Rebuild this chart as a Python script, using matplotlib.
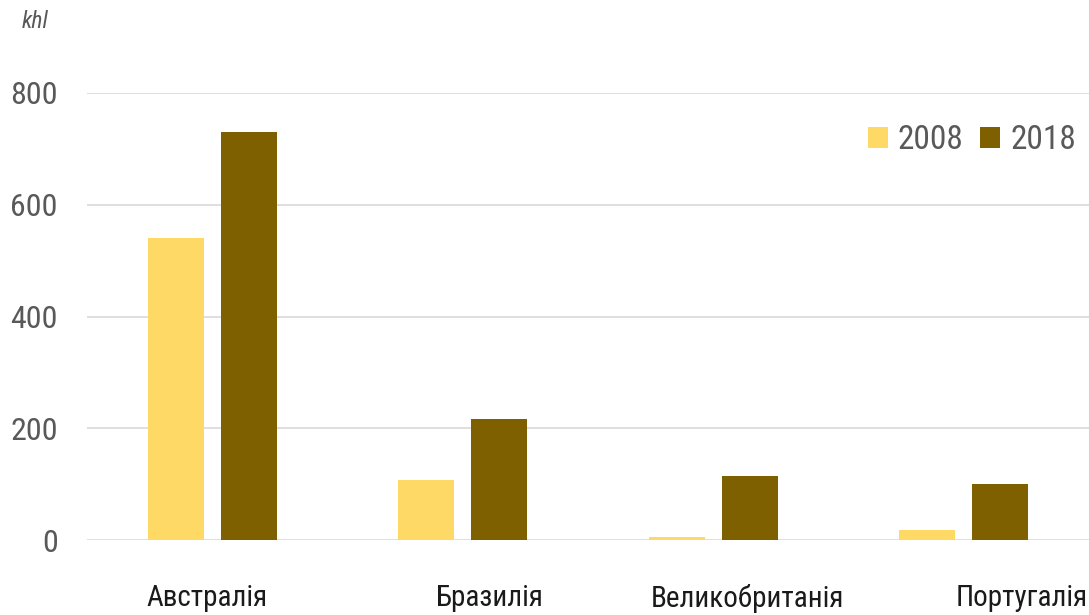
import numpy as np
import matplotlib
matplotlib.use("Agg")
import matplotlib.pyplot as plt
from matplotlib.transforms import blended_transform_factory

countries = ['Австралія', 'Бразилія', 'Великобританія', 'Португалія']
years = ['2008', '2018']
v2008 = [540, 107, 5, 18]
v2018 = [730, 216, 114, 100]

c2008 = '#FFD966'
c2018 = '#7F6000'
narrow = ['Roboto Condensed', 'Roboto', 'DejaVu Sans']

fig = plt.figure(figsize=(10.89, 6.15), dpi=100)
ax = fig.add_axes([87 / 1089, 75 / 615, 1 - 87 / 1089, 447 / 615])

x = np.arange(len(countries))
w = 0.224
ax.bar(x - 0.146, v2008, w, color=c2008, label=years[0], zorder=3)
ax.bar(x + 0.146, v2018, w, color=c2018, label=years[1], zorder=3)

ax.set_xlim(-0.5, 3.5)
ax.set_ylim(0, 800)
ax.set_yticks([0, 200, 400, 600, 800])
ax.yaxis.grid(True, color='#D9D9D9', linewidth=1.2, zorder=0)
ax.set_axisbelow(True)
for s in ax.spines.values():
    s.set_visible(False)
ax.tick_params(axis='y', length=0, pad=21, labelsize=23, labelcolor='#595959')
for lab in ax.get_yticklabels():
    lab.set_family(narrow)
ax.set_xticks([])

# category labels sit a little off the group centres in the original
label_shift = [-0.02, 0.11, 0.136, 0.23]
trans = blended_transform_factory(ax.transData, ax.transAxes)
for i, name in enumerate(countries):
    ax.text(i + label_shift[i], -0.13, name, transform=trans, ha='center', va='center',
            fontsize=21, family=narrow, color='#1a1a1a', clip_on=False)

fig.text(22 / 1089, 1 - 22 / 615, 'khl', fontsize=17, style='italic', family=narrow,
         color='#595959', ha='left', va='center')

leg = fig.legend(loc='upper right', bbox_to_anchor=(1106 / 1089, 1 - 94 / 615), ncol=2,
                 frameon=False, handlelength=0.6, handleheight=0.6, handletextpad=0.3,
                 columnspacing=0.5, prop={'family': narrow, 'size': 24})
for t in leg.get_texts():
    t.set_color('#595959')

fig.savefig('out.png', dpi=100)
